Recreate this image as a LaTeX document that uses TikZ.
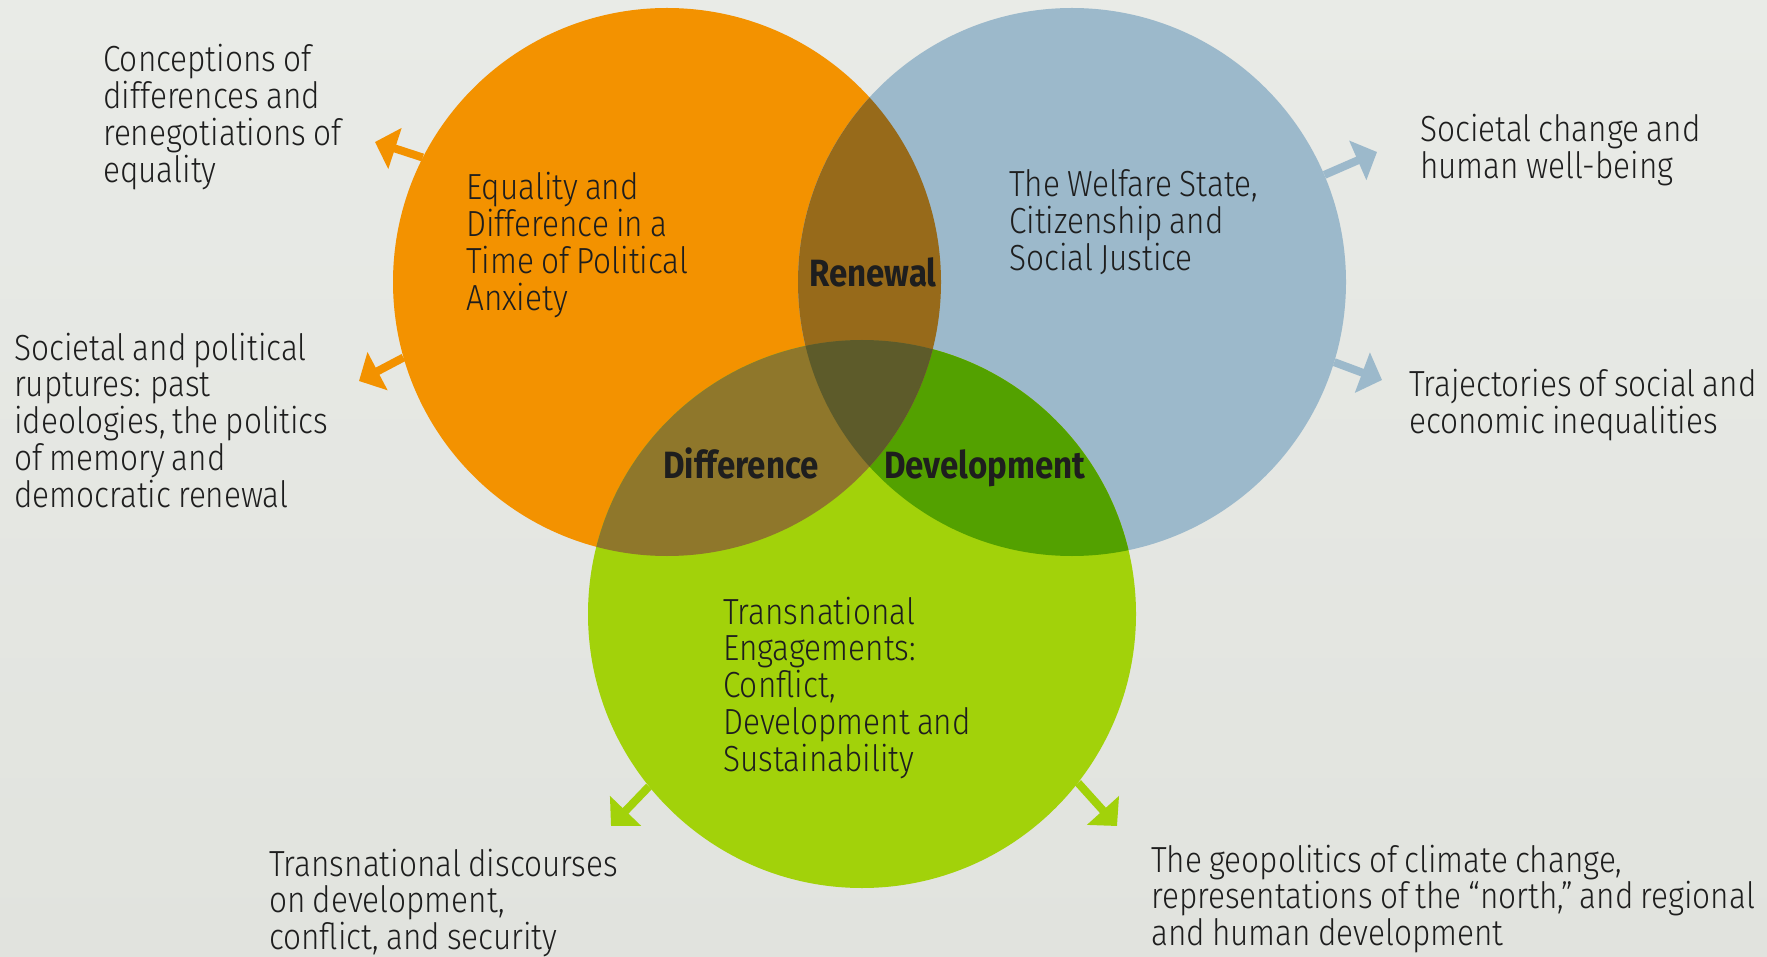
\documentclass[tikz,border=0pt]{standalone}
\usepackage{fontspec}
\setmainfont{Fira Sans Light}[FakeStretch=0.87, WordSpace=0.8]
\newfontfamily\labelfont{Fira Sans}[FakeStretch=0.87]
\usetikzlibrary{arrows.meta,calc}

\definecolor{bgtop}{HTML}{E9EBE7}
\definecolor{bgbottom}{HTML}{E1E3DE}
\definecolor{eqorange}{HTML}{F39200}
\definecolor{wfblue}{HTML}{9CB9CB}
\definecolor{trgreen}{HTML}{A2D20A}
\definecolor{renewbrown}{HTML}{976A1A}
\definecolor{diffbrown}{HTML}{8F772B}
\definecolor{devgreen}{HTML}{53A100}
\definecolor{coreolive}{HTML}{5D5B2A}
\definecolor{inkgray}{HTML}{1E1E1E}

% note nodes sit on the baseline of their last line
\tikzset{
  topic/.style={circle, minimum size=548pt, inner sep=0pt},
  note/.style={anchor=base west, inner sep=0pt, align=left, text=inkgray,
    font=\fontsize{36.3}{36.8}\selectfont},
  overlap/.style={anchor=base, inner sep=0pt, text=inkgray,
    font=\labelfont\bfseries\fontsize{38}{38}\selectfont},
  spoke/.style={line width=8pt, -{Triangle[length=21pt,width=42pt]}},
}

\begin{document}
\begin{tikzpicture}[x=1pt,y=-1pt]
        % Background
        \fill[top color=bgtop, bottom color=bgbottom] (0,0) rectangle (1767,957);
        \useasboundingbox (0,0) rectangle (1767,957);

        % The three circles
        \node[topic, fill=eqorange] (equality) at (667,282) {};
        \node[topic, fill=wfblue] (welfare) at (1072,282) {};
        \node[topic, fill=trgreen] (transnat) at (862,614) {};

        % Overlaps
        \begin{scope}
            \clip (welfare.center) circle[radius=274pt];
            \fill[devgreen] (transnat.center) circle[radius=274pt];
        \end{scope}
        \begin{scope}
            \clip (equality.center) circle[radius=274pt];
            \fill[renewbrown] (welfare.center) circle[radius=274pt];
            \fill[diffbrown] (transnat.center) circle[radius=274pt];
            \clip (welfare.center) circle[radius=274pt];
            \fill[coreolive] (transnat.center) circle[radius=274pt];
        \end{scope}

        % Titles of the circles
        \node[note] (eqtitle) at (466,310.4) {Equality and\\Difference in a\\Time of Political\\Anxiety};
        \node[note] (wftitle) at (1009,270.6) {The Welfare State,\\Citizenship and\\Social Justice};
        \node[note] (trtitle) at (723,771.2) {Transnational\\Engagements:\\Conflict,\\Development and\\Sustainability};

        % Labels of the overlaps
        \node[overlap] (renewal) at (873,287) {Renewal};
        \node[overlap] (difference) at (741,478) {Difference};
        \node[overlap] (development) at (985,478) {Development};

        % Outer themes
        \node[note] (conceptions) at (103,182.4) {Conceptions of\\differences and\\renegotiations of\\equality};
        \node[note] (ruptures) at (14,507.2) {Societal and political\\ruptures: past\\ideologies, the politics\\of memory and\\democratic renewal};
        \node[note] (wellbeing) at (1420,178.8) {Societal change and\\human well-being};
        \node[note] (inequal) at (1409,433.8) {Trajectories of social and\\economic inequalities};
        \node[note] (discourses) at (269,949.6) {Transnational discourses\\on development,\\conflict, and security};
        \node[note] (climate) at (1151,945.6) {The geopolitics of climate change,\\representations of the “north,” and regional\\and human development};

        % Arrows out of the circles
        \coordinate (eqtipa) at (375,142);
        \coordinate (eqtipb) at (359,381);
        \coordinate (wftipa) at (1377,152);
        \coordinate (wftipb) at (1382,380);
        \coordinate (trtipa) at (611,826);
        \coordinate (trtipb) at (1117,826);
        \draw[spoke, eqorange] (equality.153) -- (eqtipa);
        \draw[spoke, eqorange] (equality.196) -- (eqtipb);
        \draw[spoke, wfblue] (welfare.23.7) -- (wftipa);
        \draw[spoke, wfblue] (welfare.-17) -- (wftipb);
        \draw[spoke, trgreen] (transnat.-141) -- (trtipa);
        \draw[spoke, trgreen] (transnat.-38) -- (trtipb);
    \end{tikzpicture}
\end{document}
